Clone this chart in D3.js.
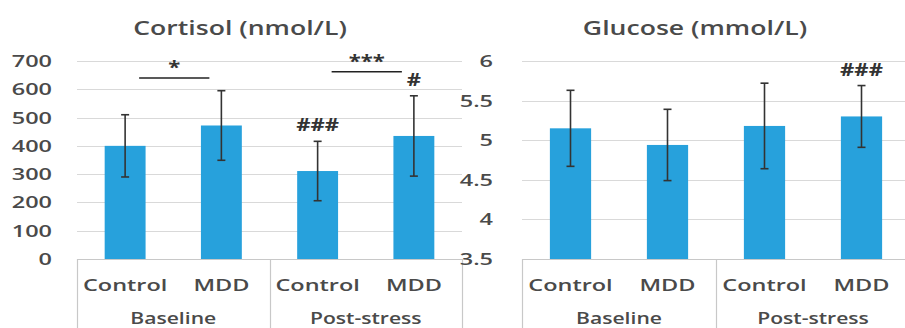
<!DOCTYPE html>
<html>
<head>
<meta charset="utf-8">
<script src="https://cdn.jsdelivr.net/npm/d3@7"></script>
<style>
  html, body { margin: 0; padding: 0; background: #fff; }
  svg { display: block; }
  text { font-family: "Open Sans", "DejaVu Sans", sans-serif; fill: #4a4a4a; }
</style>
</head>
<body>
<svg id="chart" width="905" height="328"></svg>
<script>
// Groups and subjects along the two-level category axis
const groups = ["Baseline", "Post-stress"];
const subjects = ["Control", "MDD"];

// Cortisol (nmol/L): means and standard deviations per group/subject
const cortisolMean = [400, 472, 311, 435];
const cortisolSD   = [110, 123, 105, 142];
const cortisolTicks = [0, 100, 200, 300, 400, 500, 600, 700];

// Glucose (mmol/L): means and standard deviations per group/subject
const glucoseMean = [5.15, 4.94, 5.18, 5.30];
const glucoseSD   = [0.48, 0.45, 0.54, 0.39];
const glucoseTicks = [3.5, 4, 4.5, 5, 5.5, 6];

// Significance marks: bar index and symbol
const cortisolHash = [{ i: 2, text: "###" }, { i: 3, text: "#" }];
const glucoseHash  = [{ i: 3, text: "###" }];
// Bracket comparisons (MDD vs Control within a group)
const cortisolStars = [{ a: 0, b: 1, text: "*", level: 640 }, { a: 2, b: 3, text: "***", level: 662 }];

const BAR = "#27a1dc";
const GRID = "#d9d9d9";
const AXIS = "#c8c8c8";

const svg = d3.select("#chart");
const keys = groups.flatMap(g => subjects.map(s => g + "|" + s));

// text drawn with a wide horizontal stretch
function stretchedText(sel, x, y, str, size, anchor, weight, sx) {
  return sel.append("text")
    .attr("transform", `translate(${x},${y}) scale(${sx || 1.4},1)`)
    .attr("text-anchor", anchor || "middle")
    .style("font-size", size + "px")
    .style("font-weight", weight || 600)
    .text(str);
}

function panel(opt) {
  const g = svg.append("g");
  const x = d3.scaleBand().domain(keys).range([opt.x0, opt.x1]).paddingInner(0.575).paddingOuter(0.2875);
  const y = d3.scaleLinear().domain(opt.domain).range([259, 61]);

  // gridlines
  g.append("g").selectAll("line").data(opt.ticks).join("line")
    .attr("x1", opt.x0).attr("x2", opt.x1)
    .attr("y1", d => Math.round(y(d)) + 0.5).attr("y2", d => Math.round(y(d)) + 0.5)
    .attr("stroke", d => d === opt.domain[0] ? AXIS : GRID).attr("stroke-width", 1.2);

  // tick labels
  opt.ticks.forEach(t => {
    stretchedText(g, opt.labelX, y(t) + 6, opt.fmt(t), 17, "end", 600, 1.38);
  });

  // bars
  g.append("g").selectAll("rect").data(opt.mean).join("rect")
    .attr("x", (d, i) => x(keys[i])).attr("width", x.bandwidth())
    .attr("y", d => y(d)).attr("height", d => y(opt.domain[0]) - y(d))
    .attr("fill", BAR);

  // error bars
  const eb = g.append("g").attr("stroke", "#333").attr("stroke-width", 1.6);
  opt.mean.forEach((m, i) => {
    const cx = x(keys[i]) + x.bandwidth() / 2;
    const hi = y(m + opt.sd[i]), lo = y(m - opt.sd[i]);
    eb.append("line").attr("x1", cx).attr("x2", cx).attr("y1", hi).attr("y2", lo);
    eb.append("line").attr("x1", cx - 4).attr("x2", cx + 4).attr("y1", hi).attr("y2", hi);
    eb.append("line").attr("x1", cx - 4).attr("x2", cx + 4).attr("y1", lo).attr("y2", lo);
  });

  // two-level category axis
  const step = x.step();
  const ax = g.append("g").attr("stroke", AXIS).attr("stroke-width", 1.2);
  [0, 2, 4].forEach(k => {
    const xx = Math.round(opt.x0 + k * step) + 0.5;
    ax.append("line").attr("x1", xx).attr("x2", xx).attr("y1", 259).attr("y2", 328);
  });
  keys.forEach((k, i) => {
    stretchedText(g, x(k) + x.bandwidth() / 2, 291, subjects[i % 2], 17, "middle", 600, 1.38);
  });
  groups.forEach((gr, j) => {
    stretchedText(g, opt.x0 + (2 * j + 1) * step, 324, gr, 16, "middle", 600, 1.32);
  });

  // title
  stretchedText(g, opt.titleX, 35, opt.title, 19, "middle", 600, 1.4);

  // hash marks above error bars
  opt.hash.forEach(h => {
    const cx = x(keys[h.i]) + x.bandwidth() / 2;
    stretchedText(g, cx, y(opt.mean[h.i] + opt.sd[h.i]) - 10, h.text, 17, "middle", 700, 1.3)
      .style("fill", "#333");
  });

  return { g, x, y };
}

const left = panel({
  x0: 77, x1: 462, domain: [0, 700], ticks: cortisolTicks, fmt: d => String(d),
  mean: cortisolMean, sd: cortisolSD, labelX: 52, title: "Cortisol (nmol/L)", titleX: 240,
  hash: cortisolHash
});

panel({
  x0: 522, x1: 910, domain: [3.5, 6], ticks: glucoseTicks, fmt: d => String(d),
  mean: glucoseMean, sd: glucoseSD, labelX: 493, title: "Glucose (mmol/L)", titleX: 695,
  hash: glucoseHash
});

// comparison brackets on the cortisol panel
cortisolStars.forEach(s => {
  const xa = left.x(keys[s.a]) + left.x.bandwidth() / 2 + 14;
  const xb = left.x(keys[s.b]) + left.x.bandwidth() / 2 - 12;
  const yy = left.y(s.level);
  left.g.append("line").attr("x1", xa).attr("x2", xb).attr("y1", yy).attr("y2", yy)
    .attr("stroke", "#222").attr("stroke-width", 1.6);
  stretchedText(left.g, (xa + xb) / 2, yy - 4, s.text, 17, "middle", 700, 1.3).style("fill", "#333");
});
</script>
</body>
</html>
